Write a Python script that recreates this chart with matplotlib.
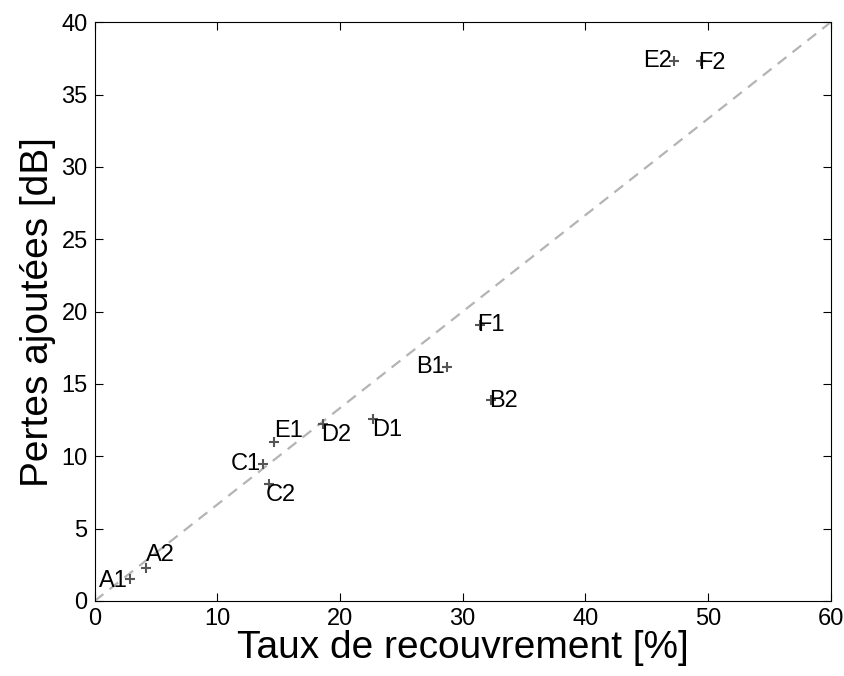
import numpy as np
import matplotlib.pyplot as plt

plt.rcParams['font.family'] = ['Liberation Sans', 'DejaVu Sans']

# --- données ---
names = ['A1', 'A2', 'B1', 'B2', 'C1', 'C2', 'D1', 'D2', 'E1', 'E2', 'F1', 'F2']
taux = [2.9, 4.2, 28.7, 32.3, 13.7, 14.2, 22.7, 18.6, 14.6, 47.2, 31.4, 49.4]
pertes = [1.5, 2.3, 16.2, 13.9, 9.5, 8.1, 12.6, 12.2, 11.0, 37.3, 19.1, 37.3]
# position du texte par rapport au point : (dx, dy en points, ha, va)
offsets = {
    'A1': (-2, -1, 'right', 'center'),
    'A2': (0, 1, 'left', 'bottom'),
    'B1': (-1, 0, 'right', 'center'),
    'B2': (-1, -1, 'left', 'center'),
    'C1': (-1, 0, 'right', 'center'),
    'C2': (-2, 0, 'left', 'top'),
    'D1': (-1, 0, 'left', 'top'),
    'D2': (-1, 0, 'left', 'top'),
    'E1': (0, 0, 'left', 'bottom'),
    'E2': (-1, 0, 'right', 'center'),
    'F1': (-2, 0, 'left', 'center'),
    'F2': (-2, -1, 'left', 'center'),
}

fig = plt.figure(figsize=(8.45, 6.76), dpi=100)
ax = fig.add_axes([0.112, 0.111, 0.871, 0.856])

# droite de référence
xl = np.array([0, 60])
ax.plot(xl, xl * 40 / 60, '--', color='#b4b4b4', linewidth=1.6, dashes=(5, 3.5))

ax.plot(taux, pertes, '+', color='#555555', markersize=7, markeredgewidth=1.5)
for n, x, y in zip(names, taux, pertes):
    dx, dy, ha, va = offsets[n]
    ax.annotate(n, (x, y), textcoords='offset points', xytext=(dx, dy),
                ha=ha, va=va, fontsize=17)

ax.set_xlim(0, 60)
ax.set_ylim(0, 40)
ax.set_xticks(np.arange(0, 61, 10))
ax.set_yticks(np.arange(0, 41, 5))
ax.tick_params(direction='in', top=True, right=True, labelsize=17, length=6, pad=5)
ax.set_xlabel('Taux de recouvrement [%]', fontsize=28, labelpad=0)
ax.set_ylabel('Pertes ajoutées [dB]', fontsize=28, labelpad=4)

plt.savefig('out.png', dpi=100)
